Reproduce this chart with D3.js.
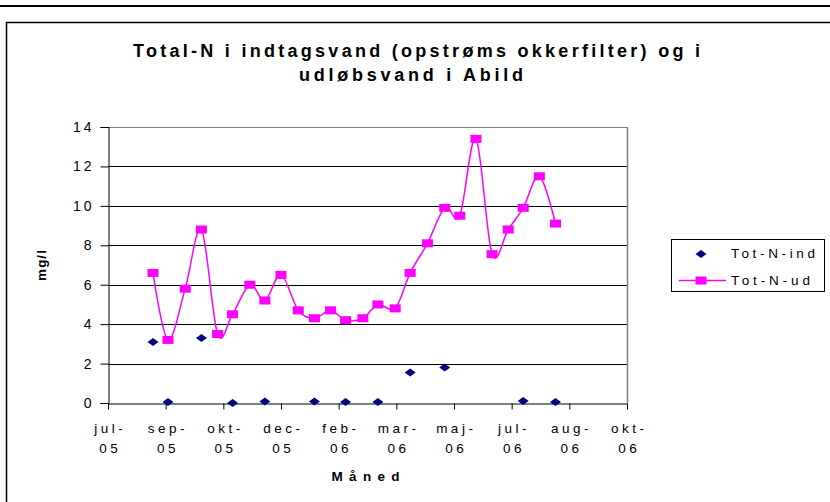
<!DOCTYPE html>
<html>
<head>
<meta charset="utf-8">
<script src="https://cdn.jsdelivr.net/npm/d3@7"></script>
<style>
  body { margin: 0; background: #fff; }
  svg { display: block; font-family: "Liberation Sans", Arial, sans-serif; }
</style>
</head>
<body>
<svg id="chart" width="830" height="502"></svg>
<script>
// data
var udDates = ["2005-08-28","2005-09-10","2005-09-25","2005-10-09","2005-10-23","2005-11-05",
  "2005-11-20","2005-12-03","2005-12-17","2006-01-01","2006-01-15","2006-01-29","2006-02-11",
  "2006-02-26","2006-03-11","2006-03-26","2006-04-08","2006-04-23","2006-05-08","2006-05-21",
  "2006-06-04","2006-06-18","2006-07-02","2006-07-15","2006-07-29","2006-08-12"];
var udValues = [6.6,3.2,5.8,8.8,3.5,4.5,6.0,5.2,6.5,4.7,4.3,4.7,4.2,4.3,5.0,4.8,6.6,8.1,9.9,9.5,
  13.4,7.55,8.8,9.9,11.5,9.1];

var indDates = ["2005-08-28","2005-09-10","2005-10-09","2005-11-05","2005-12-03","2006-01-15",
  "2006-02-11","2006-03-11","2006-04-08","2006-05-08","2006-07-15","2006-08-12"];
var indValues = [3.1,0.05,3.3,0,0.07,0.07,0.05,0.05,1.55,1.8,0.1,0.05];

var yTicks = [0,2,4,6,8,10,12,14];
var monthNames = ["jan","feb","mar","apr","maj","jun","jul","aug","sep","okt","nov","dec"];
var axisStart = "2005-07-20"; // Excel date axis, major unit 50 days
var majorUnit = 50, majorCount = 9;

var titleLines = ["Total-N i indtagsvand (opstrøms okkerfilter) og i", "udløbsvand i Abild"];
var seriesNames = ["Tot-N-ind", "Tot-N-ud"];

var parse = d3.timeParse("%Y-%m-%d");
var svg = d3.select("#chart");

var plotLeft = 108, plotRight = 627, plotTop = 127, plotBottom = 403;

var t0 = parse(axisStart);
var tickDates = d3.range(0, majorCount + 1).map(function(i) { return d3.timeDay.offset(t0, i * majorUnit); });

var x = d3.scaleTime().domain([t0, tickDates[tickDates.length - 1]]).range([plotLeft, plotRight]);
var y = d3.scaleLinear().domain([0, 14]).range([plotBottom, plotTop]);

// outer frame
svg.append("line").attr("x1", 0).attr("x2", 830).attr("y1", 6).attr("y2", 6)
  .attr("stroke", "#000").attr("stroke-width", 2);
svg.append("rect").attr("x", 6.5).attr("y", 22.5).attr("width", 900).attr("height", 600)
  .attr("fill", "none").attr("stroke", "#000").attr("stroke-width", 1.5);

// title
var titleX = [133, 299], titleLen = [567, 224], titleY = [57, 81];
svg.selectAll(".title").data(titleLines).enter().append("text")
  .attr("class", "title")
  .attr("x", function(d, i) { return titleX[i]; })
  .attr("y", function(d, i) { return titleY[i]; })
  .attr("textLength", function(d, i) { return titleLen[i]; })
  .attr("lengthAdjust", "spacing")
  .attr("font-size", "18px").attr("font-weight", "bold")
  .text(function(d) { return d; });

// gridlines
svg.append("g").selectAll("line").data(yTicks.filter(function(d) { return d > 0; })).enter().append("line")
  .attr("x1", plotLeft).attr("x2", plotRight)
  .attr("y1", function(d) { return Math.round(y(d)) + 0.5; })
  .attr("y2", function(d) { return Math.round(y(d)) + 0.5; })
  .attr("stroke", function(d) { return d === 14 ? "#808080" : "#000"; });

// plot border right
svg.append("line").attr("x1", plotRight + 0.5).attr("x2", plotRight + 0.5).attr("y1", plotTop).attr("y2", plotBottom)
  .attr("stroke", "#808080").attr("stroke-width", 1.5);

// y axis
var yAxis = d3.axisLeft(y).tickValues(yTicks).tickSize(8).tickPadding(6);
var gy = svg.append("g").attr("transform", "translate(" + (plotLeft + 0.5) + ",0)").call(yAxis);
gy.select(".domain").attr("stroke", "#000");
gy.selectAll(".tick line").attr("stroke", "#000");
gy.selectAll(".tick text").attr("font-size", "14px").attr("font-family", "Liberation Sans, Arial")
  .attr("letter-spacing", "3px").attr("fill", "#000");

// x axis
var xAxis = d3.axisBottom(x).tickValues(tickDates).tickSize(6).tickFormat("");
var gx = svg.append("g").attr("transform", "translate(0," + (Math.round(plotBottom) + 0.5) + ")").call(xAxis);
gx.select(".domain").attr("stroke", "#000");
gx.selectAll(".tick line").attr("stroke", "#000");
gx.selectAll(".tick").each(function(d) {
  var t = d3.select(this).append("text")
    .attr("fill", "#000").attr("font-size", "13.5px").attr("font-family", "Liberation Sans, Arial")
    .attr("letter-spacing", "3.5px").attr("text-anchor", "middle");
  t.append("tspan").attr("x", 1.75).attr("y", 29).text(monthNames[d.getMonth()] + "-");
  t.append("tspan").attr("x", 1.75).attr("y", 49).text(d3.timeFormat("%y")(d));
});

// axis titles
svg.append("text").attr("x", (plotLeft + plotRight) / 2 - 2).attr("y", 481)
  .attr("text-anchor", "middle").attr("font-size", "13.5px").attr("font-weight", "bold")
  .attr("textLength", 68).attr("lengthAdjust", "spacing").text("Måned");
svg.append("text").attr("transform", "translate(46," + ((plotTop + plotBottom) / 2) + ") rotate(-90)")
  .attr("text-anchor", "middle").attr("font-size", "13.5px").attr("font-weight", "bold")
  .attr("letter-spacing", "1px").text("mg/l");

// series
var ud = udDates.map(function(d, i) { return { date: parse(d), value: udValues[i] }; });
var ind = indDates.map(function(d, i) { return { date: parse(d), value: indValues[i] }; });

var line = d3.line()
  .x(function(d) { return x(d.date); })
  .y(function(d) { return y(d.value); })
  .curve(d3.curveCardinal.tension(0));

svg.append("path").datum(ud).attr("d", line)
  .attr("fill", "none").attr("stroke", "#FF00FF").attr("stroke-width", 1.5);

var sqW = 11, sqH = 8;
svg.append("g").selectAll("rect").data(ud).enter().append("rect")
  .attr("x", function(d) { return x(d.date) - sqW / 2; })
  .attr("y", function(d) { return y(d.value) - sqH / 2; })
  .attr("width", sqW).attr("height", sqH)
  .attr("fill", "#FF00FF");

function diamond(cx, cy) {
  var w = 5.5, h = 4;
  return "M" + cx + "," + (cy - h) + "L" + (cx + w) + "," + cy + "L" + cx + "," + (cy + h) + "L" + (cx - w) + "," + cy + "Z";
}
svg.append("g").selectAll("path").data(ind).enter().append("path")
  .attr("d", function(d) { return diamond(x(d.date), y(d.value)); })
  .attr("fill", "#000080");

// legend
var legend = svg.append("g");
legend.append("rect").attr("x", 671.5).attr("y", 239.5).attr("width", 153).attr("height", 52)
  .attr("fill", "#fff").attr("stroke", "#000");
legend.append("path").attr("d", diamond(701, 254)).attr("fill", "#000080");
legend.append("line").attr("x1", 679).attr("x2", 726).attr("y1", 280.5).attr("y2", 280.5)
  .attr("stroke", "#FF00FF").attr("stroke-width", 1.5);
legend.append("rect").attr("x", 701 - sqW / 2).attr("y", 280.5 - sqH / 2).attr("width", sqW).attr("height", sqH)
  .attr("fill", "#FF00FF");
var legLen = [84, 79], legY = [258, 285];
legend.selectAll(".leg").data(seriesNames).enter().append("text")
  .attr("class", "leg")
  .attr("x", 731).attr("y", function(d, i) { return legY[i]; })
  .attr("textLength", function(d, i) { return legLen[i]; }).attr("lengthAdjust", "spacing")
  .attr("font-size", "13.5px").text(function(d) { return d; });
</script>
</body>
</html>
